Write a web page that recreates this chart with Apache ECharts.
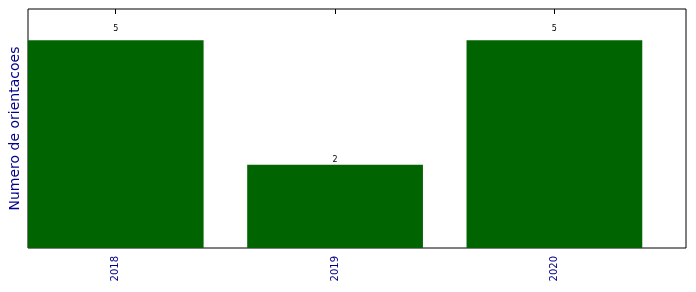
<!DOCTYPE html>
<html>
<head>
<meta charset="utf-8">
<script src="https://cdn.jsdelivr.net/npm/echarts@6/dist/echarts.min.js"></script>
<style>html,body{margin:0;padding:0;background:#fff;}#c{width:696px;height:292px;}</style>
</head>
<body>
<div id="c"></div>
<script>
const categories = ['2018', '2019', '2020'];
const values = [5, 2, 5];
const positions = [0, 1, 2];

const chart = echarts.init(document.getElementById('c'), null, {renderer: 'canvas'});
const gridLeft = 27, gridRight = 10, gridTop = 9, gridBottom = 44;
const gridWidth = 696 - gridLeft - gridRight;
const gridHeight = 292 - gridTop - gridBottom;
const xMin = -0.4, xMax = 2.6, yMax = 5.75;
const barW = 0.8 * gridWidth / (xMax - xMin);
const pxPerUnit = gridHeight / yMax;
const fmt = v => { const i = positions.indexOf(Math.round(v)); return i >= 0 ? categories[i] : ''; };

chart.setOption({
  animation: false,
  grid: {left: gridLeft, right: gridRight, top: gridTop, bottom: gridBottom, show: true, borderColor: '#000', borderWidth: 1, backgroundColor: '#fff'},
  xAxis: [{
    type: 'value', min: xMin, max: xMax, position: 'bottom',
    axisLine: {show: false},
    splitLine: {show: false},
    axisTick: {show: true, inside: true, length: 5, lineStyle: {color: '#000'}, customValues: positions},
    axisLabel: {show: true, rotate: 90, margin: 8, color: '#00008b', fontSize: 10, fontFamily: 'DejaVu Sans', customValues: positions, formatter: fmt}
  }, {
    type: 'value', min: xMin, max: xMax, position: 'top',
    axisLine: {show: false},
    splitLine: {show: false},
    axisTick: {show: true, inside: true, length: 5, lineStyle: {color: '#000'}, customValues: positions},
    axisLabel: {show: false}
  }],
  yAxis: {
    type: 'value', min: 0, max: yMax,
    axisLine: {show: false}, axisTick: {show: false}, axisLabel: {show: false}, splitLine: {show: false},
    name: 'Numero de orientacoes', nameLocation: 'middle', nameRotate: 90, nameGap: 6,
    nameTextStyle: {color: '#00008b', fontSize: 14, fontFamily: 'DejaVu Sans'}
  },
  series: [{
    type: 'bar', xAxisIndex: 0,
    barWidth: barW,
    data: positions.map((p, i) => ({
      value: [p, values[i]],
      label: {distance: Math.max(1, 0.05 * values[i] * pxPerUnit - 3.5)}
    })),
    itemStyle: {color: '#006400'},
    label: {show: true, position: 'top', color: '#000', fontSize: 8, fontFamily: 'DejaVu Sans', formatter: p => String(p.value[1])}
  }]
});
</script>
</body>
</html>
